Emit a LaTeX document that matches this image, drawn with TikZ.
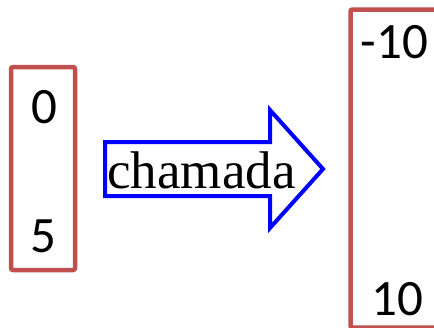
\documentclass[tikz,border=0pt]{standalone}
\usepackage{fontspec}
\setmainfont{Carlito}
\newfontfamily\serifface{Liberation Serif}
\definecolor{boxred}{RGB}{192,80,77}
\definecolor{arrowblue}{RGB}{0,0,255}
\begin{document}
\begin{tikzpicture}[x=1pt,y=-1pt,
  arraybox/.style={draw=boxred,line width=4.5pt,rounded corners=2pt},
  digit/.style={inner sep=0pt,anchor=base,font=\fontsize{51}{51}\selectfont},
  callarrow/.style={draw=arrowblue,line width=4pt,line join=miter,fill=white},
  calltext/.style={inner sep=0pt,anchor=base,font=\serifface\fontsize{53}{53}\selectfont}]
\useasboundingbox (0,0) rectangle (434,327);
% left array
\draw[arraybox] (11,67) rectangle (75,270);
\node[digit] (a0) at (44,123.5) {0};
\node[digit] (a5) at (43.5,252) {5};
% call arrow
\draw[callarrow] (105,142) -- (270,142) -- (270,110) -- (323,169) -- (270,228) -- (270,196) -- (105,196) -- cycle;
\node[calltext] (call) at (201.5,188) {chamada};
% right array
\draw[arraybox] (350.5,9.5) rectangle (460,327.5);
\node[digit] (bm) at (394.5,58) {-10};
\node[digit] (bp) at (397,315) {10};
\end{tikzpicture}
\end{document}
